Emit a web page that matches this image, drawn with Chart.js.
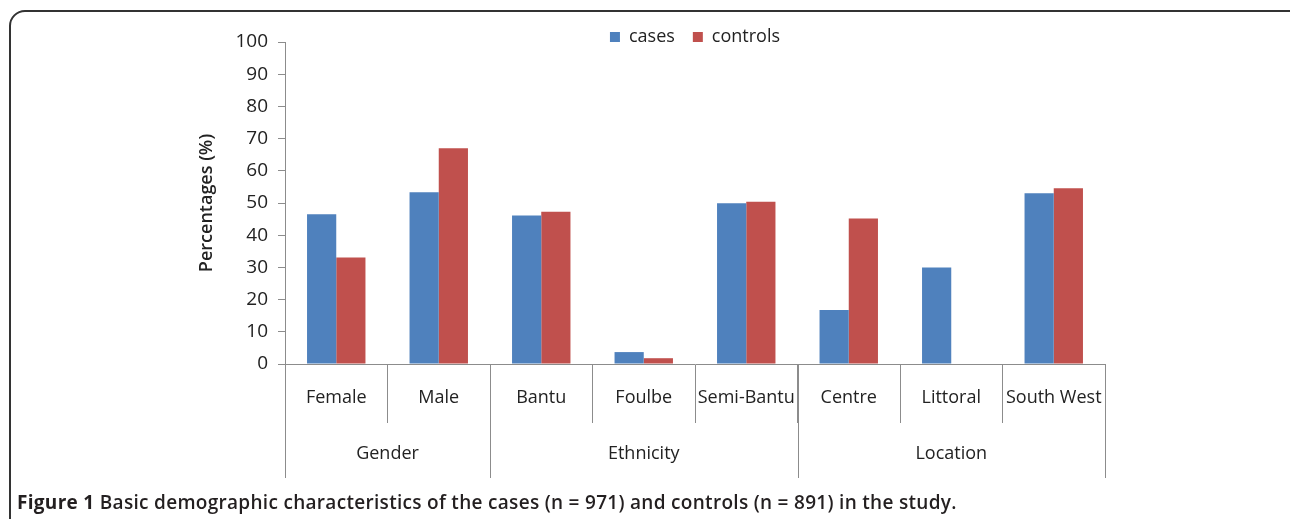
<!DOCTYPE html>
<html>
<head>
<meta charset="utf-8">
<script src="https://cdn.jsdelivr.net/npm/chart.js@4/dist/chart.umd.min.js"></script>
<style>
    html, body { margin: 0; padding: 0; background: #fff; }
    body { width: 1290px; height: 519px; position: relative; overflow: hidden; }
    #frame {
        position: absolute; left: 9px; top: 10px; width: 1300px; height: 560px;
        border: 2px solid #333; border-radius: 16px; box-sizing: border-box;
    }
    #wrap { position: absolute; left: 0; top: 0; width: 1290px; height: 490px; }
    #caption {
        position: absolute; left: 17px; top: 489px;
        font-family: "Open Sans", sans-serif; font-size: 19px; font-weight: 700;
        color: #231f20; white-space: nowrap; letter-spacing: 0.3px;
    }
    #caption span { font-weight: 600; }
</style>
</head>
<body>
<div id="frame"></div>
<div id="wrap"><canvas id="chart" width="1290" height="490"></canvas></div>
<div id="caption">Figure 1 <span>Basic demographic characteristics of the cases (n = 971) and controls (n = 891) in the study.</span></div>
<script>
const categories = ['Female', 'Male', 'Bantu', 'Foulbe', 'Semi-Bantu', 'Centre', 'Littoral', 'South West'];
const groups = ['Gender', 'Ethnicity', 'Location'];
const groupSizes = [2, 3, 3];
const cases = [46.5, 53.3, 46.1, 3.7, 49.9, 16.8, 30.0, 53.0];
const controls = [33.1, 67.0, 47.3, 1.8, 50.4, 45.2, 0, 54.6];
const yTicks = [0, 10, 20, 30, 40, 50, 60, 70, 80, 90, 100];

const axisGrey = '#8c8c8c';
const font = 'Open Sans';

// group labels + longer separators under the category axis
const groupAxis = {
    id: 'groupAxis',
    afterDraw(chart) {
        const ctx = chart.ctx;
        const x = chart.scales.x;
        const top = chart.chartArea.bottom;
        const bottom = x.bottom;
        const half = (x.getPixelForValue(1) - x.getPixelForValue(0)) / 2;
        ctx.save();
        ctx.strokeStyle = axisGrey;
        ctx.lineWidth = 1;
        ctx.fillStyle = '#222';
        ctx.font = '18px "' + font + '"';
        ctx.textAlign = 'center';
        ctx.textBaseline = 'middle';
        let start = 0;
        groups.forEach((g, i) => {
            const end = start + groupSizes[i] - 1;
            const left = x.getPixelForValue(start) - half;
            const right = x.getPixelForValue(end) + half;
            [left, right].forEach(px => {
                const p = Math.round(px) + 0.5;
                ctx.beginPath();
                ctx.moveTo(p, top);
                ctx.lineTo(p, bottom);
                ctx.stroke();
            });
            ctx.fillText(g, (left + right) / 2, bottom - 24);
            start = end + 1;
        });
        ctx.restore();
    }
};

new Chart(document.getElementById('chart').getContext('2d'), {
    type: 'bar',
    data: {
        labels: categories,
        datasets: [
            { label: 'cases', data: cases, backgroundColor: '#4F81BD' },
            { label: 'controls', data: controls, backgroundColor: '#C0504D' }
        ]
    },
    options: {
        responsive: false,
        animation: false,
        layout: { padding: { left: 196, right: 185, top: 10, bottom: 12 } },
        datasets: { bar: { categoryPercentage: 0.57, barPercentage: 1 } },
        plugins: {
            legend: {
                position: 'top',
                fullSize: false,
                maxHeight: 32,
                labels: {
                    boxWidth: 10, boxHeight: 10, padding: 18,
                    color: '#222',
                    font: { family: font, size: 18 }
                }
            },
            tooltip: { enabled: false }
        },
        scales: {
            x: {
                grid: {
                    offset: true, drawOnChartArea: false, tickLength: 59,
                    color: axisGrey
                },
                border: { color: axisGrey },
                ticks: {
                    padding: -36, color: '#222', maxRotation: 0, autoSkip: false,
                    font: { family: font, size: 18 }
                },
                afterFit(scale) { scale.height = 114; }
            },
            y: {
                min: 0, max: 100,
                afterBuildTicks(scale) { scale.ticks = yTicks.map(v => ({ value: v })); },
                grid: { drawOnChartArea: false, tickLength: 7, color: axisGrey },
                border: { color: axisGrey },
                ticks: {
                    padding: 10, color: '#222',
                    font: { family: font, size: 19 }
                },
                title: {
                    display: true, text: 'Percentages (%)', color: '#222',
                    padding: { top: 0, bottom: 0 },
                    font: { family: font, size: 18, weight: '600' }
                },
                afterFit(scale) { scale.width = 89; }
            }
        }
    },
    plugins: [groupAxis]
});
</script>
</body>
</html>
